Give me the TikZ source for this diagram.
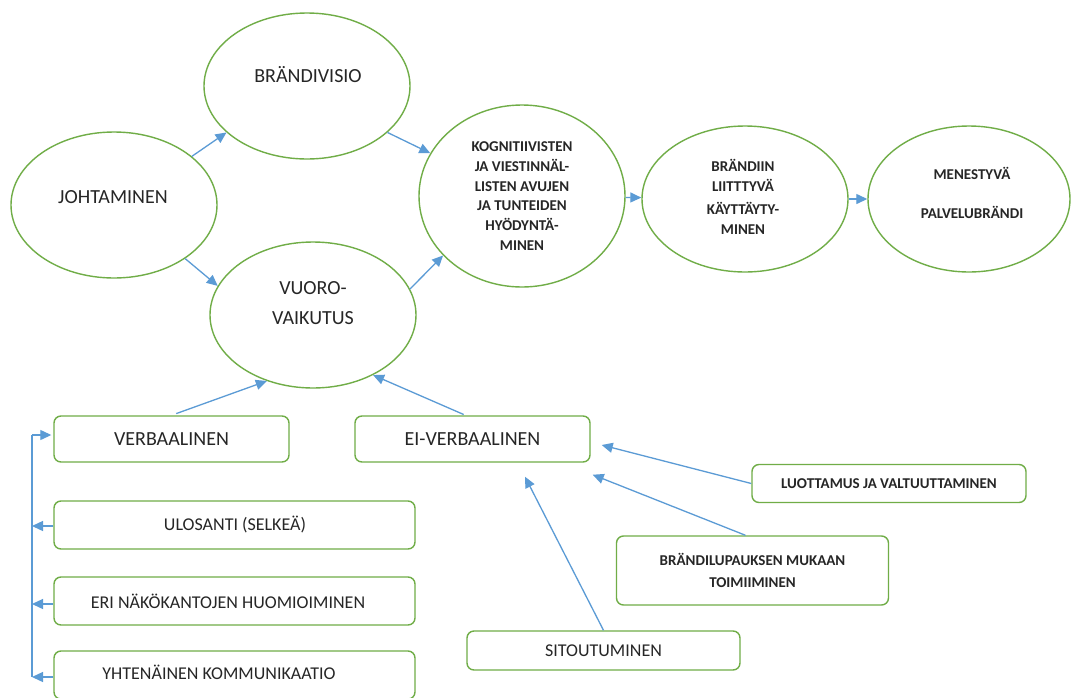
\documentclass[tikz,border=0pt]{standalone}
\usepackage{fontspec}
\setmainfont{Carlito}
\usetikzlibrary{shapes.geometric,arrows.meta,calc}
\definecolor{ellgreen}{HTML}{70AD47}
\definecolor{arrblue}{HTML}{5B9BD5}
\definecolor{txt}{HTML}{262626}

\begin{document}
\begin{tikzpicture}[x=1pt,y=-1pt,
  oval/.style={draw=ellgreen, line width=1.4pt, ellipse, inner sep=0pt},
  box/.style={draw=ellgreen, line width=1.4pt, rounded corners=7pt, inner sep=0pt, align=center},
  big/.style={font=\fontsize{20}{30}\selectfont, text=txt, align=center},
  mid/.style={font=\fontsize{18}{22}\selectfont, text=txt},
  small/.style={font=\bfseries\fontsize{15}{19.7}\selectfont, text=txt, align=center},
  conn/.style={draw=arrblue, line width=1.3pt, -{Triangle[length=11pt,width=10pt]}},
]
\useasboundingbox[fill=white] (0,0) rectangle (1072,697);

% ---- ellipses ----
\node[oval, minimum width=206pt, minimum height=146pt] (joht) at (114,205) {};
\node[oval, minimum width=206pt, minimum height=146pt] (brand) at (307,86) {};
\node[oval, minimum width=206pt, minimum height=146pt] (vuoro) at (313,315) {};
\node[oval, minimum width=206pt, minimum height=182pt] (kog) at (522,196) {};
\node[oval, minimum width=206pt, minimum height=146pt] (bra) at (745,199) {};
\node[oval, minimum width=202pt, minimum height=146pt] (men) at (969,199) {};

\node[big] (johtT) at (113,197) {JOHTAMINEN};
\node[big] (brandT) at (308,75) {BRÄNDIVISIO};
\node[big] (vuoroT) at (313,303) {VUORO-\\VAIKUTUS};
\node[small] (kogT) at (522,196) {KOGNITIIVISTEN\\JA VIESTINNÄL-\\LISTEN AVUJEN\\JA TUNTEIDEN\\HYÖDYNTÄ-\\MINEN};
\node[small] (braT) at (743,197) {BRÄNDIIN\\LIITTTYVÄ\\[4pt]KÄYTTÄYTY-\\MINEN};
\node[small, font=\bfseries\fontsize{15}{39}\selectfont] (menT) at (972,192.5) {MENESTYVÄ\\PALVELUBRÄNDI};

% ---- boxes ----
\node[box, big, minimum width=235pt, minimum height=46pt] (verb) at (171.5,439) {VERBAALINEN};
\node[box, big, minimum width=235pt, minimum height=46pt] (ei) at (472.5,439) {EI-VERBAALINEN};
\node[box, mid, minimum width=361pt, minimum height=48pt] (ulos) at (234.5,525) {\hspace*{1pt}ULOSANTI (SELKEÄ)};
\node[box, mid, minimum width=361pt, minimum height=48pt] (eri) at (234.5,601) {\hspace*{-13pt}ERI NÄKÖKANTOJEN HUOMIOIMINEN};
\node[box, minimum width=361pt, minimum height=48pt] (yht) at (234.5,675) {};
\node[mid] (yhtT) at (219,672) {YHTENÄINEN KOMMUNIKAATIO};
\node[box, small, font=\bfseries\fontsize{15}{22}\selectfont, minimum width=274pt, minimum height=38pt] (luott) at (889,483.5) {LUOTTAMUS JA VALTUUTTAMINEN};
\node[box, small, font=\bfseries\fontsize{15}{22}\selectfont, minimum width=272pt, minimum height=69pt] (brl) at (752.5,570.5) {BRÄNDILUPAUKSEN MUKAAN\\TOIMIIMINEN};
\node[box, mid, minimum width=273pt, minimum height=39pt] (sit) at (603.5,650.5) {SITOUTUMINEN};

% ---- connectors between ellipses ----
\draw[conn] (joht.32) -- (brand.210);
\draw[conn] (brand.330) -- (kog.155);
\draw[conn] (joht.-37) -- (vuoro.163);
\draw[conn] (vuoro.15) -- (kog.217);
\draw[conn] (kog) -- (bra);
\draw[conn] (bra) -- (men);

% ---- connectors from the boxes ----
\draw[conn, shorten <=5pt] (verb.north) -- (vuoro.235);
\draw[conn, shorten <=2pt] ([xshift=-7pt]ei.north) -- (vuoro.-45);
\draw[conn] (luott.west) -- ([shift={(11,6)}]ei.east);
\draw[conn] ([xshift=-7pt]brl.north) -- ([shift={(2,12)}]ei.south east);
\draw[conn] (sit.north) -- ([shift={(52.5,14)}]ei.south);

% ---- bracket on the left ----
\coordinate (b1) at (32,435);
\coordinate (b2) at (32,526);
\coordinate (b3) at (32,604);
\coordinate (b4) at (32,677);
\draw[arrblue, line width=1.3pt] (b1) -- (b4);
\draw[conn, shorten >=2pt] (b1) -- (verb.west |- b1);
\draw[conn] (ulos.west |- b2) -- (b2);
\draw[conn] (eri.west |- b3) -- (b3);
\draw[conn] (yht.west |- b4) -- (b4);
\end{tikzpicture}
\end{document}
